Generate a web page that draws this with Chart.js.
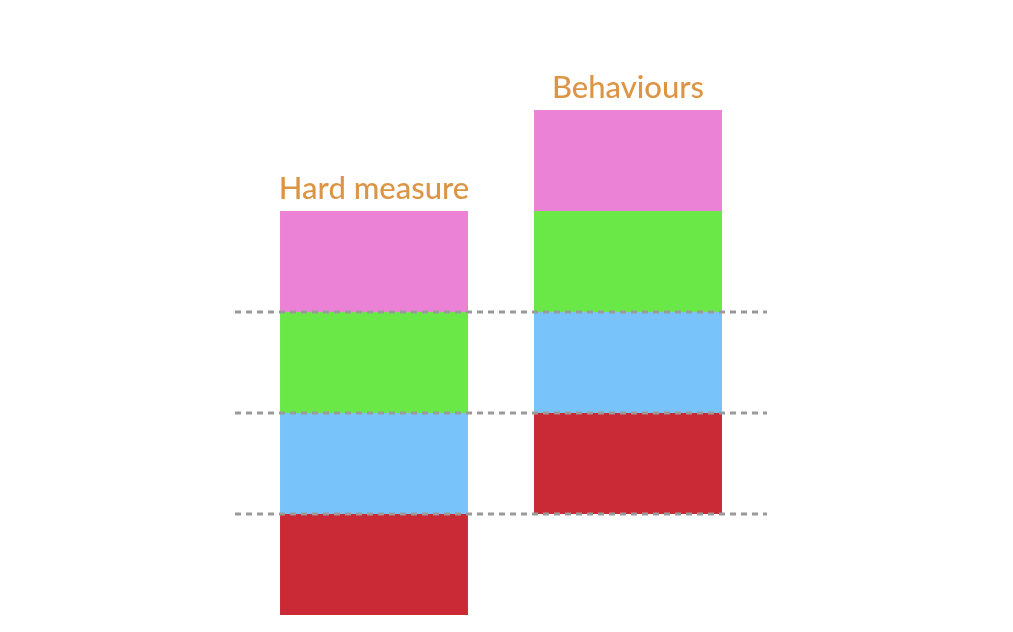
<!DOCTYPE html>
<html>
<head>
<meta charset="utf-8">
<script src="https://cdn.jsdelivr.net/npm/chart.js@4/dist/chart.umd.min.js"></script>
<style>
  html, body { margin: 0; padding: 0; background: #fff; }
  #chart { display: block; }
</style>
</head>
<body>
<canvas id="chart" width="1013" height="632"></canvas>
<script>
// dados
const categories = ['Hard measure', 'Behaviours'];
const baseLevel = [0, 1];      // onde cada coluna começa
const redValues = [1, 1];
const blueValues = [1, 1];
const greenValues = [1, 1];
const pinkValues = [1, 1];
const dashedLevels = [1, 2, 3];

// linhas tracejadas por cima das barras
const dashedLines = {
    id: 'dashedLines',
    afterDatasetsDraw(chart) {
        const ctx = chart.ctx;
        const area = chart.chartArea;
        const y = chart.scales.y;
        ctx.save();
        ctx.strokeStyle = '#9a9a9a';
        ctx.lineWidth = 3;
        ctx.setLineDash([6, 5]);
        dashedLevels.forEach(v => {
            const py = Math.round(y.getPixelForValue(v));
            ctx.beginPath();
            ctx.moveTo(area.left - 12, py);
            ctx.lineTo(area.right + 12, py);
            ctx.stroke();
        });
        ctx.restore();
    }
};

// títulos acima de cada coluna
const topLabels = {
    id: 'topLabels',
    afterDatasetsDraw(chart) {
        const ctx = chart.ctx;
        const x = chart.scales.x;
        const y = chart.scales.y;
        ctx.save();
        ctx.fillStyle = '#DC9445';
        ctx.font = '500 31px Lato, "Open Sans", sans-serif';
        ctx.textAlign = 'center';
        ctx.textBaseline = 'middle';
        categories.forEach((c, i) => {
            const top = baseLevel[i] + redValues[i] + blueValues[i] + greenValues[i] + pinkValues[i];
            ctx.fillText(c, x.getPixelForValue(i), y.getPixelForValue(top) - 22);
        });
        ctx.restore();
    }
};

const ctx = document.getElementById('chart').getContext('2d');
const chart = new Chart(ctx, {
    type: 'bar',
    data: {
        labels: categories,
        datasets: [
            { label: 'base', data: baseLevel, backgroundColor: 'rgba(0,0,0,0)' },
            { label: 'red', data: redValues, backgroundColor: '#CA2A36' },
            { label: 'blue', data: blueValues, backgroundColor: '#78C3FA' },
            { label: 'green', data: greenValues, backgroundColor: '#6AE847' },
            { label: 'pink', data: pinkValues, backgroundColor: '#EC82D6' }
        ]
    },
    options: {
        responsive: false,
        animation: false,
        layout: { padding: { left: 247, right: 258, top: 9, bottom: 17 } },
        datasets: {
            bar: { barPercentage: 1, categoryPercentage: 0.74, borderWidth: 0 }
        },
        plugins: { legend: { display: false }, tooltip: { enabled: false } },
        scales: {
            x: { stacked: true, display: false },
            y: { stacked: true, display: false, min: 0, max: 6 }
        }
    },
    plugins: [dashedLines, topLabels]
});
</script>
</body>
</html>
